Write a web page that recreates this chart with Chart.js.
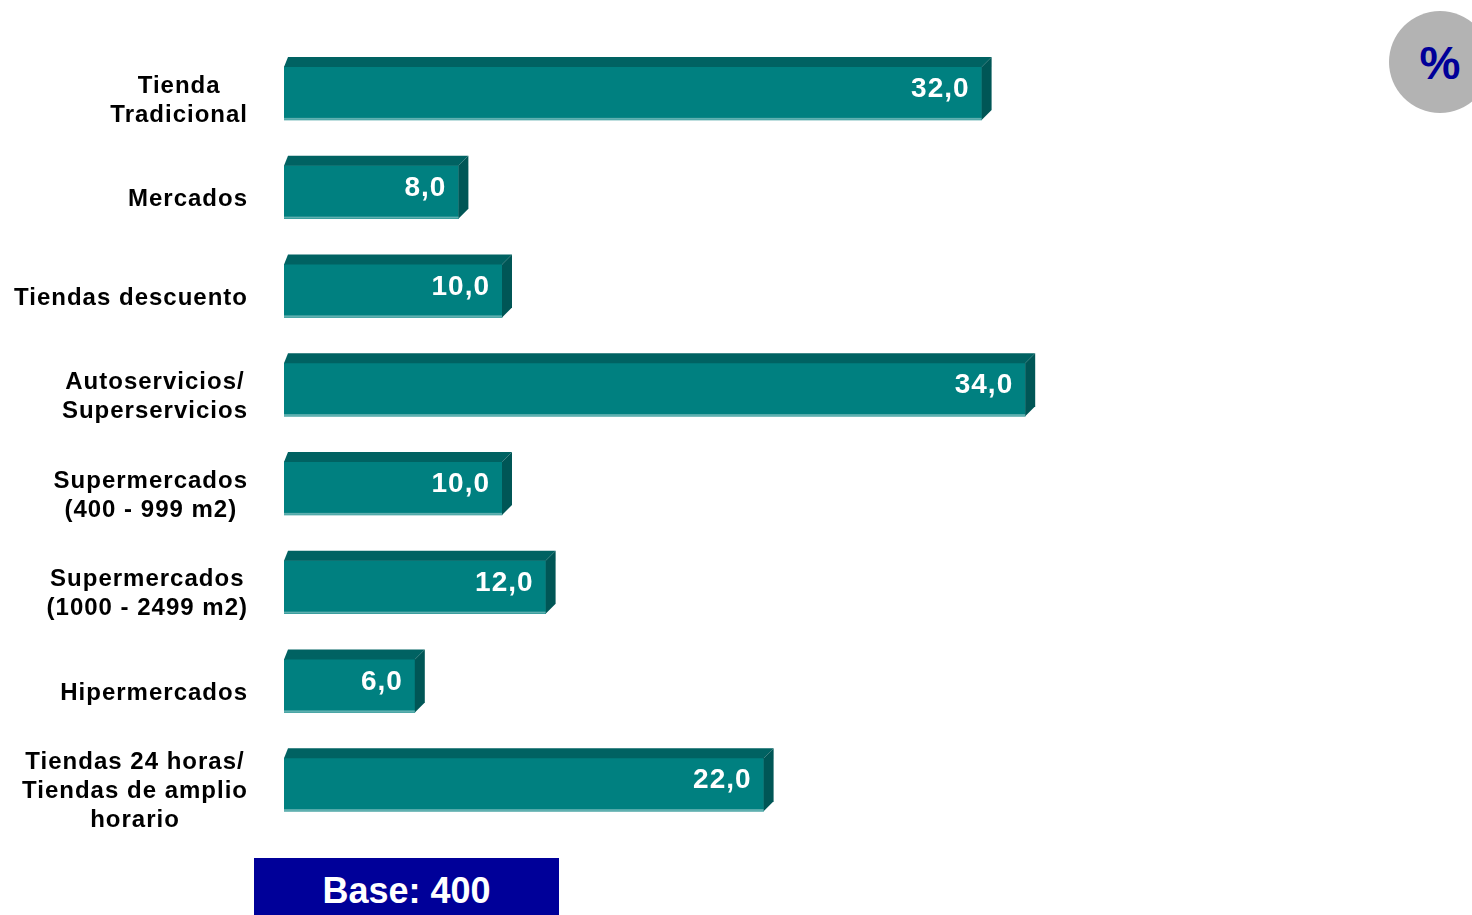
<!DOCTYPE html>
<html>
<head>
<meta charset="utf-8">
<script src="https://cdn.jsdelivr.net/npm/chart.js@4/dist/chart.umd.min.js"></script>
<style>
  body { margin: 0; background: #fff; }
  #wrap { position: relative; width: 1472px; height: 915px; overflow: hidden; }
  #base {
    position: absolute; left: 254px; top: 858px; width: 305px; height: 57px;
    background: #000099; color: #fff; font: bold 36px "Liberation Sans", Arial, sans-serif;
    text-align: center; line-height: 65px;
  }
  #pct {
    position: absolute; left: 1389px; top: 11px; width: 102px; height: 102px; border-radius: 50%;
    background: #b3b3b3; color: #000099; font: bold 46px "Liberation Sans", Arial, sans-serif;
    line-height: 104px; text-align: center;
  }
</style>
</head>
<body>
<div id="wrap">
  <canvas id="myChart"></canvas>
  <div id="pct">%</div>
  <div id="base">Base: 400</div>
</div>
<script>
var categories = [
    ['Tienda', 'Tradicional'],
    ['Mercados'],
    ['Tiendas descuento'],
    ['Autoservicios/', 'Superservicios'],
    ['Supermercados', '(400 - 999 m2)'],
    ['Supermercados', '(1000 - 2499 m2)'],
    ['Hipermercados'],
    ['Tiendas 24 horas/', 'Tiendas de amplio', 'horario']
];
var values = [32.0, 8.0, 10.0, 34.0, 10.0, 12.0, 6.0, 22.0];

var DEPTH = 10;

// draws the top and side faces of each bar, plus labels
var bar3d = {
    id: 'bar3d',
    afterDatasetsDraw: function (chart) {
        var c = chart.ctx;
        var meta = chart.getDatasetMeta(0);
        meta.data.forEach(function (bar, i) {
            var x0 = bar.base, x1 = bar.x;
            var top = bar.y - bar.height / 2, bottom = bar.y + bar.height / 2;
            c.save();
            // top face
            c.fillStyle = '#006262';
            c.beginPath();
            c.moveTo(x0, top);
            c.lineTo(x0 + 4, top - DEPTH);
            c.lineTo(x1 + DEPTH, top - DEPTH);
            c.lineTo(x1, top);
            c.closePath();
            c.fill();
            // side face
            c.fillStyle = '#005656';
            c.beginPath();
            c.moveTo(x1, top);
            c.lineTo(x1 + DEPTH, top - DEPTH);
            c.lineTo(x1 + DEPTH, bottom - DEPTH);
            c.lineTo(x1, bottom);
            c.closePath();
            c.fill();
            // light bottom edge
            c.fillStyle = '#5fb0b0';
            c.fillRect(x0, bottom - 2, x1 - x0, 2);

            // value label
            c.fillStyle = '#ffffff';
            c.font = 'bold 28px "Liberation Sans", Arial, sans-serif';
            c.letterSpacing = '1px';
            c.textAlign = 'right';
            c.textBaseline = 'middle';
            c.fillText(values[i].toFixed(1).replace('.', ','), x1 - 12, bar.y - 4);

            // category label
            c.fillStyle = '#000000';
            c.font = 'bold 24px "Liberation Sans", Arial, sans-serif';
            c.letterSpacing = '1px';
            c.textAlign = 'center';
            var lines = categories[i];
            var maxW = 0;
            lines.forEach(function (l) { maxW = Math.max(maxW, c.measureText(l).width); });
            var cx = 248 - maxW / 2;
            var lh = 29;
            var y0 = bar.y + 7 - (lines.length - 1) * lh / 2;
            lines.forEach(function (l, k) {
                c.fillText(l, cx, y0 + k * lh);
            });
            c.restore();
        });
    }
};

var ctx = document.getElementById('myChart');
var myChart = new Chart(ctx, {
    type: 'bar',
    data: {
        labels: categories,
        datasets: [{
            data: values,
            backgroundColor: '#008080',
            borderWidth: 0,
            barThickness: 53
        }]
    },
    options: {
        indexAxis: 'y',
        responsive: true,
        maintainAspectRatio: false,
        animation: false,
        layout: { padding: { left: 284, right: 316, top: 44, bottom: 81 } },
        plugins: { legend: { display: false }, tooltip: { enabled: false } },
        scales: {
            x: { display: false, min: 0, max: 40 },
            y: { display: false }
        }
    },
    plugins: [bar3d]
});
</script>
</body>
</html>
